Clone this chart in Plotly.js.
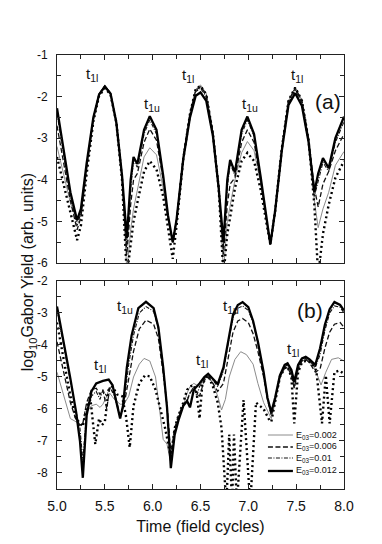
<!DOCTYPE html>
<html>
<head>
<meta charset="utf-8">
<script src="https://cdn.plot.ly/plotly-3.0.1.min.js"></script>
<style>
  html, body { margin: 0; padding: 0; background: #fff; }
  #graph { width: 382px; height: 544px; }
</style>
</head>
<body>
<div id="graph"></div>
<script>
// panel (a): shared time grid (field cycles)
let tA = [5.00, 5.07, 5.14, 5.21, 5.25, 5.31, 5.38, 5.44, 5.50, 5.56, 5.62, 5.68, 5.73, 5.77, 5.80, 5.84, 5.91, 5.97, 6.04, 6.11, 6.16, 6.21, 6.25, 6.32, 6.39, 6.45, 6.50, 6.56, 6.63, 6.69, 6.74, 6.78, 6.81, 6.86, 6.93, 6.99, 7.06, 7.13, 7.19, 7.23, 7.28, 7.35, 7.42, 7.49, 7.56, 7.63, 7.69, 7.73, 7.78, 7.84, 7.91, 8.00];

let aE002 = [-3.2, -3.9, -4.55, -5.0, -4.85, -3.75, -2.55, -1.93, -1.72, -1.9, -2.58, -3.95, -6.2, -5.2, -4.7, -4.25, -3.45, -3.23, -3.4, -4.2, -4.95, -5.5, -4.95, -3.45, -2.38, -1.82, -1.72, -1.92, -2.85, -4.15, -6.2, -5.0, -4.6, -4.0, -3.35, -3.08, -3.3, -4.1, -5.0, -5.55, -4.75, -3.25, -2.1, -1.78, -2.08, -3.0, -4.5, -5.15, -4.7, -4.3, -3.65, -3.32];
let aE006 = [-2.7, -3.6, -4.5, -5.2, -4.9, -3.7, -2.55, -1.95, -1.75, -1.92, -2.6, -3.95, -5.8, -4.6, -4.0, -3.85, -3.1, -2.78, -3.05, -4.0, -4.9, -5.5, -4.95, -3.45, -2.4, -1.85, -1.76, -1.95, -2.85, -4.15, -5.8, -4.6, -4.1, -3.95, -3.1, -2.8, -3.1, -4.05, -5.0, -5.55, -4.75, -3.25, -2.1, -1.8, -2.1, -3.0, -4.2, -4.65, -4.1, -3.8, -3.3, -2.9];
let aE010 = [-2.4, -3.4, -4.4, -5.1, -4.8, -3.65, -2.5, -1.93, -1.74, -1.92, -2.62, -3.95, -5.6, -4.2, -3.55, -3.7, -2.9, -2.56, -2.9, -3.95, -4.9, -5.5, -4.95, -3.48, -2.45, -1.88, -1.8, -2.0, -2.9, -4.2, -5.6, -4.2, -3.6, -3.9, -2.9, -2.56, -2.95, -4.0, -5.0, -5.55, -4.75, -3.25, -2.15, -1.85, -2.15, -3.05, -4.4, -4.0, -3.58, -3.8, -3.1, -2.6];
let aE012 = [-2.28, -3.3, -4.3, -4.97, -4.7, -3.6, -2.5, -1.95, -1.76, -1.93, -2.62, -3.9, -5.4, -4.0, -3.45, -3.62, -2.8, -2.47, -2.8, -3.9, -4.85, -5.5, -4.95, -3.5, -2.5, -1.98, -1.9, -2.1, -2.95, -4.2, -5.5, -4.0, -3.52, -3.82, -2.8, -2.48, -2.9, -3.95, -4.97, -5.55, -4.75, -3.3, -2.2, -1.92, -2.22, -3.1, -4.3, -3.85, -3.48, -3.72, -3.0, -2.48];
let aDot = [-3.45, -4.1, -4.8, -5.45, -5.1, -3.85, -2.6, -1.98, -1.8, -1.95, -2.62, -4.0, -6.3, -5.5, -5.0, -4.55, -3.8, -3.55, -3.75, -4.4, -5.2, -5.9, -5.1, -3.5, -2.42, -1.82, -1.74, -1.95, -2.9, -4.2, -6.3, -5.3, -4.9, -4.2, -3.55, -3.35, -3.55, -4.25, -5.05, -5.55, -4.75, -3.25, -2.1, -1.78, -2.1, -3.05, -4.6, -6.3, -5.3, -4.6, -3.95, -3.55];

// panel (b)
let bT002 = [5.00, 5.07, 5.14, 5.20, 5.24, 5.27, 5.31, 5.36, 5.41, 5.45, 5.48, 5.52, 5.55, 5.60, 5.66, 5.70, 5.75, 5.80, 5.86, 5.91, 5.97, 6.03, 6.08, 6.11, 6.15, 6.19, 6.23, 6.27, 6.32, 6.36, 6.39, 6.43, 6.46, 6.49, 6.54, 6.58, 6.63, 6.68, 6.72, 6.76, 6.80, 6.86, 6.92, 6.98, 7.05, 7.10, 7.16, 7.20, 7.24, 7.28, 7.33, 7.38, 7.41, 7.45, 7.48, 7.52, 7.56, 7.60, 7.66, 7.71, 7.76, 7.81, 7.87, 7.94, 8.00];
let bE002 = [-4.85, -5.6, -6.3, -6.4, -6.5, -6.45, -6.1, -5.9, -5.85, -5.95, -5.85, -5.6, -5.5, -5.7, -5.85, -5.85, -5.6, -5.0, -4.6, -4.42, -4.5, -5.0, -6.2, -6.95, -7.1, -7.7, -6.8, -6.3, -5.9, -5.5, -5.3, -5.2, -5.25, -5.3, -5.05, -4.95, -5.2, -5.6, -6.03, -5.7, -5.0, -4.45, -4.21, -4.3, -4.6, -5.2, -5.8, -6.05, -6.3, -5.8, -5.0, -4.72, -4.68, -4.95, -5.35, -4.8, -4.5, -4.45, -4.5, -4.85, -5.25, -4.85, -4.45, -4.4, -4.5];

let bT010 = [5.00, 5.07, 5.14, 5.20, 5.24, 5.27, 5.31, 5.36, 5.41, 5.45, 5.48, 5.52, 5.55, 5.60, 5.66, 5.70, 5.75, 5.80, 5.86, 5.93, 6.01, 6.06, 6.11, 6.15, 6.19, 6.23, 6.27, 6.32, 6.36, 6.39, 6.43, 6.46, 6.49, 6.54, 6.58, 6.63, 6.68, 6.74, 6.79, 6.84, 6.89, 6.94, 7.00, 7.05, 7.10, 7.16, 7.20, 7.24, 7.28, 7.33, 7.38, 7.41, 7.45, 7.48, 7.52, 7.56, 7.60, 7.64, 7.70, 7.75, 7.80, 7.85, 7.90, 7.96, 8.00];
let bE006 = [-3.9, -4.9, -5.8, -6.35, -6.5, -6.45, -5.8, -5.4, -5.35, -5.55, -5.4, -6.0, -5.35, -5.5, -6.2, -5.9, -5.0, -4.2, -3.5, -3.22, -3.35, -3.8, -4.9, -5.9, -7.4, -6.6, -6.2, -5.85, -5.75, -5.5, -5.35, -5.5, -5.6, -5.1, -5.0, -5.2, -5.45, -5.2, -4.4, -3.6, -3.25, -3.17, -3.3, -3.65, -4.2, -5.0, -5.7, -6.2, -5.7, -5.0, -4.72, -4.7, -4.95, -5.35, -4.75, -4.5, -4.45, -4.55, -4.85, -4.75, -4.1, -3.6, -3.35, -3.3, -3.45];
let bE010 = [-2.9, -4.0, -5.2, -6.1, -6.6, -7.6, -6.1, -5.6, -5.45, -5.7, -5.4, -5.6, -5.3, -5.6, -6.25, -5.8, -4.6, -3.7, -3.0, -2.8, -2.95, -3.5, -4.7, -5.9, -7.6, -6.7, -6.3, -5.9, -5.7, -5.5, -5.3, -5.6, -5.3, -5.05, -4.95, -5.1, -5.3, -4.8, -3.95, -3.15, -2.85, -2.78, -2.92, -3.3, -3.95, -4.9, -5.65, -6.15, -5.7, -5.0, -4.68, -4.62, -4.85, -5.3, -4.7, -4.47, -4.42, -4.5, -4.7, -4.3, -3.55, -3.0, -2.78, -2.82, -3.0];

let bT012 = [5.00, 5.07, 5.14, 5.20, 5.24, 5.27, 5.31, 5.36, 5.41, 5.48, 5.54, 5.58, 5.62, 5.66, 5.69, 5.73, 5.78, 5.85, 5.93, 6.01, 6.06, 6.11, 6.15, 6.19, 6.23, 6.27, 6.32, 6.36, 6.39, 6.43, 6.49, 6.54, 6.58, 6.63, 6.68, 6.74, 6.79, 6.84, 6.89, 6.94, 7.00, 7.05, 7.10, 7.16, 7.20, 7.24, 7.28, 7.33, 7.38, 7.41, 7.45, 7.48, 7.52, 7.56, 7.60, 7.64, 7.70, 7.75, 7.80, 7.85, 7.90, 7.96, 8.00];
let bE012 = [-2.8, -3.9, -5.05, -6.1, -7.0, -8.15, -6.2, -5.45, -5.2, -5.12, -5.08, -5.25, -5.75, -6.3, -5.9, -4.7, -3.7, -2.85, -2.65, -2.85, -3.45, -4.7, -5.95, -7.85, -6.8, -6.35, -5.9, -5.75, -5.95, -5.4, -5.2, -5.0, -4.9, -5.05, -5.22, -4.7, -3.9, -3.05, -2.75, -2.66, -2.82, -3.25, -3.9, -4.85, -5.65, -6.1, -5.65, -4.95, -4.62, -4.57, -4.78, -5.15, -4.62, -4.42, -4.37, -4.45, -4.62, -4.1, -3.37, -2.88, -2.66, -2.75, -2.92];

let bTdot = [5.00, 5.07, 5.14, 5.20, 5.24, 5.27, 5.31, 5.35, 5.40, 5.44, 5.47, 5.50, 5.54, 5.58, 5.63, 5.68, 5.72, 5.76, 5.80, 5.86, 5.92, 5.97, 6.03, 6.08, 6.13, 6.19, 6.23, 6.27, 6.32, 6.36, 6.39, 6.43, 6.46, 6.49, 6.52, 6.58, 6.63, 6.68, 6.72, 6.77, 6.80, 6.83, 6.85, 6.88, 6.95, 7.02, 7.08, 7.16, 7.22, 7.24, 7.28, 7.33, 7.38, 7.41, 7.45, 7.48, 7.52, 7.56, 7.60, 7.66, 7.71, 7.77, 7.81, 7.85, 7.90, 7.95, 8.00];
let bDot = [-3.3, -4.4, -5.6, -6.3, -6.45, -6.55, -5.9, -5.7, -7.1, -6.3, -6.5, -6.4, -5.4, -5.3, -5.55, -5.6, -6.2, -7.2, -5.9, -5.2, -4.95, -4.98, -5.4, -6.0, -6.6, -7.5, -6.6, -6.2, -5.8, -5.4, -5.3, -5.25, -5.5, -6.3, -5.2, -4.95, -5.3, -5.8, -6.6, -9, -6.8, -9, -6.8, -9, -5.72, -9, -5.8, -6.0, -6.35, -6.4, -5.8, -5.0, -4.72, -4.68, -5.0, -6.45, -4.85, -4.55, -4.5, -4.55, -4.8, -6.45, -4.95, -6.45, -4.85, -4.8, -4.9];

let legendNames = ["E<sub>03</sub>=0.002", "E<sub>03</sub>=0.006", "E<sub>03</sub>=0.01", "E<sub>03</sub>=0.012"];
let xTicks = [5.0, 5.5, 6.0, 6.5, 7.0, 7.5, 8.0];
let yTicksA = [-6, -5, -4, -3, -2, -1];
let yTicksB = [-8, -7, -6, -5, -4, -3, -2];

let font = "Liberation Sans, Arial, sans-serif";

let sGray = {color: "#8c8c8c", width: 1};
let sDash = {color: "#111", width: 1.3, dash: "5px,2.5px"};
let sDashDot = {color: "#111", width: 1.1, dash: "4px,1.5px,1px,1.5px"};
let sThick = {color: "#000", width: 2.3};
let sDot = {color: "#000", width: 2.4, dash: "2px,3px"};
let legendStyles = [sGray, sDash, sDashDot, sThick];

function trace(x, y, line, xa, ya, name)
{
    return {
        x: x, y: y, xaxis: xa, yaxis: ya,
        type: "scatter", mode: "lines",
        line: line, name: name, showlegend: false,
        hoverinfo: "skip"
    };
}

let data = [
    trace(tA, aE002, sGray, "x2", "y2", legendNames[0]),
    trace(tA, aDot, sDot, "x2", "y2", ""),
    trace(tA, aE006, sDash, "x2", "y2", legendNames[1]),
    trace(tA, aE010, sDashDot, "x2", "y2", legendNames[2]),
    trace(tA, aE012, sThick, "x2", "y2", legendNames[3]),
    trace(bT002, bE002, sGray, "x", "y", legendNames[0]),
    trace(bTdot, bDot, sDot, "x", "y", ""),
    trace(bT010, bE006, sDash, "x", "y", legendNames[1]),
    trace(bT010, bE010, sDashDot, "x", "y", legendNames[2]),
    trace(bT012, bE012, sThick, "x", "y", legendNames[3])
];

function xAxis(anchor, labels)
{
    return {
        anchor: anchor, range: [5, 8], autorange: false,
        tickmode: "array", tickvals: xTicks, ticktext: xTicks.map(v => v.toFixed(1)),
        showticklabels: labels,
        ticks: "inside", ticklen: 5, tickwidth: 1, tickcolor: "#222",
        minor: {tickmode: "linear", tick0: 5, dtick: 0.25, ticks: "inside", ticklen: 4, tickcolor: "#222"},
        showline: true, linecolor: "#222", linewidth: 1, mirror: "ticks",
        showgrid: false, zeroline: false,
        tickfont: {family: font, size: 14, color: "#111"},
        ticklabelstandoff: 4
    };
}

function yAxis(domain, range, ticks)
{
    return {
        domain: domain, range: range, autorange: false,
        tickmode: "array", tickvals: ticks, ticktext: ticks.map(v => String(v)),
        ticks: "inside", ticklen: 5, tickwidth: 1, tickcolor: "#222",
        minor: {tickmode: "linear", tick0: 0, dtick: 0.5, ticks: "inside", ticklen: 4, tickcolor: "#222"},
        showline: true, linecolor: "#222", linewidth: 1, mirror: "ticks",
        showgrid: false, zeroline: false,
        tickfont: {family: font, size: 12, color: "#111"},
        ticklabelstandoff: 6
    };
}

let xa = xAxis("y", true);
xa.title = {text: "Time (field cycles)", font: {family: font, size: 16, color: "#111"}, standoff: 8};
let xa2 = xAxis("y2", false);
xa2.matches = "x";

let tFont = {family: font, size: 15, color: "#111"};
function tLabel(text, x, y, xr, yr)
{
    return {text: text, x: x, y: y, xref: xr, yref: yr, showarrow: false, font: tFont};
}

// legend drawn inside panel (b), compact like the original
let shapes = [];
let annotations = [
    {text: "log<sub>10</sub>Gabor Yield (arb. units)", xref: "paper", yref: "paper",
     x: -0.14, y: 0.5, textangle: -90, showarrow: false,
     font: {family: font, size: 16, color: "#111"}},
    {text: "(a)", xref: "paper", yref: "paper", x: 0.995, xanchor: "right", y: 0.924, showarrow: false,
     font: {family: font, size: 21, color: "#111"}},
    {text: "(b)", xref: "paper", yref: "paper", x: 0.935, xanchor: "right", y: 0.412, showarrow: false,
     font: {family: font, size: 21, color: "#111"}},
    tLabel("t<sub>1l</sub>", 5.37, -1.48, "x2", "y2"),
    tLabel("t<sub>1u</sub>", 5.99, -2.18, "x2", "y2"),
    tLabel("t<sub>1l</sub>", 6.37, -1.50, "x2", "y2"),
    tLabel("t<sub>1u</sub>", 7.02, -2.18, "x2", "y2"),
    tLabel("t<sub>1l</sub>", 7.51, -1.50, "x2", "y2"),
    tLabel("t<sub>1u</sub>", 5.71, -2.81, "x", "y"),
    tLabel("t<sub>1l</sub>", 5.45, -4.63, "x", "y"),
    tLabel("t<sub>1l</sub>", 6.52, -4.47, "x", "y"),
    tLabel("t<sub>1u</sub>", 6.82, -2.81, "x", "y"),
    tLabel("t<sub>1l</sub>", 7.47, -4.13, "x", "y")
];
let rowY = [0.1244, 0.0968, 0.0714, 0.0415];
for (let i = 0; i < legendNames.length; i++)
{
    shapes.push({type: "line", xref: "paper", yref: "paper",
                 x0: 0.735, x1: 0.822, y0: rowY[i], y1: rowY[i], line: legendStyles[i]});
    annotations.push({text: legendNames[i], xref: "paper", yref: "paper",
                      x: 0.826, y: rowY[i], xanchor: "left", yanchor: "middle", showarrow: false,
                      font: {family: font, size: 9, color: "#111"}});
}

let layout = {
    width: 382, height: 544,
    margin: {l: 57, r: 38, t: 55, b: 55},
    paper_bgcolor: "#fff", plot_bgcolor: "#fff",
    xaxis: xa,
    xaxis2: xa2,
    yaxis: yAxis([0, 0.4793], [-8.5, -2], yTicksB),
    yaxis2: yAxis([0.5207, 1], [-6, -1], yTicksA),
    showlegend: false,
    shapes: shapes,
    annotations: annotations
};

Plotly.newPlot("graph", data, layout, {staticPlot: true, displayModeBar: false});
</script>
</body>
</html>
